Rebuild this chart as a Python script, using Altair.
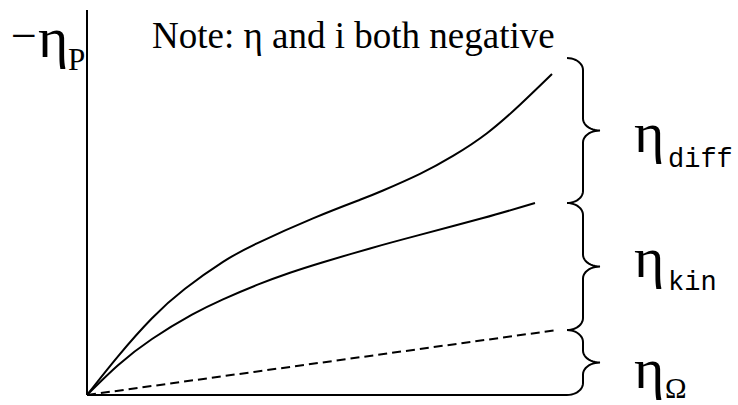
import altair as alt
import pandas as pd
import numpy as np

# Polarisation curves: current (arbitrary units) vs. -overpotential
total_i = [0, 0.62, 1.3, 1.96, 2.72, 3.4, 4.52, 5.46, 5.92, 6.66, 7.32, 8.0, 8.66, 9.3]
total_eta = [0, 1.21, 2.40, 3.32, 4.16, 4.74, 5.52, 6.10, 6.39, 6.91, 7.47, 8.18, 9.07, 10.03]
kin_i = [0, 0.62, 1.3, 2.1, 2.72, 3.4, 4.06, 4.72, 5.66, 6.6, 7.92, 8.96]
kin_eta = [0, 0.93, 1.75, 2.51, 2.99, 3.44, 3.82, 4.15, 4.58, 4.98, 5.53, 6.0]
ohm_i = [0, 9.4]
ohm_eta = [0, 2.03]

# Spans of the overpotential contributions marked with braces
brace_names = ["diff", "kin", "Ω"]
brace_lo = [6.0, 2.03, 0.0]
brace_hi = [10.53, 6.0, 2.03]

# Axis extents
y_axis_top = 12.03

# Scale set-up (50 px per current unit, 32 px per overpotential unit)
X_DOMAIN = [-1.74, 13.02]
Y_DOMAIN = [-0.3125, 12.344]
W, H = 738, 405

# Brace geometry (data units)
X_HOOK, X_SPINE, X_TIP = 9.6, 9.92, 10.26
R = 12 / 32


def brace_path(lo, hi):
    mid = (lo + hi) / 2
    t = np.linspace(0, np.pi / 2, 12)
    pts = []
    # top hook
    pts += list(zip(X_HOOK + (X_SPINE - X_HOOK) * np.sin(t), hi - R + R * np.cos(t)))
    # upper half of tip
    pts += list(zip(X_TIP - (X_TIP - X_SPINE) * np.cos(t), mid + R - R * np.sin(t)))
    # lower half of tip
    t2 = t[::-1]
    pts += list(zip(X_TIP - (X_TIP - X_SPINE) * np.cos(t2), mid - R + R * np.sin(t2)))
    # bottom hook
    pts += list(zip(X_HOOK + (X_SPINE - X_HOOK) * np.sin(t2), lo + R - R * np.cos(t2)))
    return pts


curves = pd.concat([
    pd.DataFrame({"i": total_i, "eta": total_eta, "series": "total", "k": range(len(total_i))}),
    pd.DataFrame({"i": kin_i, "eta": kin_eta, "series": "kin", "k": range(len(kin_i))}),
])
ohmic = pd.DataFrame({"i": ohm_i, "eta": ohm_eta, "k": range(len(ohm_i))})

brace_rows = []
for name, lo, hi in zip(brace_names, brace_lo, brace_hi):
    for k, (bx, by) in enumerate(brace_path(lo, hi)):
        brace_rows.append({"name": name, "i": bx, "eta": by, "k": k})
braces = pd.DataFrame(brace_rows)

xs = alt.Scale(domain=X_DOMAIN, nice=False, zero=False)
ys = alt.Scale(domain=Y_DOMAIN, nice=False, zero=False)
X = alt.X("i:Q", scale=xs, axis=None)
Y = alt.Y("eta:Q", scale=ys, axis=None)

solid = alt.Chart(curves).mark_line(
    color="black", strokeWidth=2, interpolate="natural"
).encode(x=X, y=Y, detail="series:N", order="k:Q")
dashed = alt.Chart(ohmic).mark_line(color="black", strokeWidth=2, strokeDash=[9, 5]).encode(
    x=X, y=Y, order="k:Q"
)
brace_lines = alt.Chart(braces).mark_line(color="black", strokeWidth=2).encode(
    x=X, y=Y, detail="name:N", order="k:Q"
)

axes_df = pd.DataFrame({
    "i": [0.0, 0.0], "i2": [0.0, X_HOOK],
    "eta": [0.0, 0.0], "eta2": [y_axis_top, 0.0],
})
axes = alt.Chart(axes_df).mark_rule(color="black", strokeWidth=2).encode(
    x=X, x2="i2:Q", y=Y, y2="eta2:Q"
)


def label(text, px, py, size, font="Liberation Serif"):
    return alt.Chart(pd.DataFrame({"t": [text]})).mark_text(
        align="left", baseline="alphabetic", font=font, fontSize=size, color="black"
    ).encode(x=alt.value(px), y=alt.value(py), text="t:N")


texts = [
    label("Note: η and i both negative", 152, 48, 37),
    label("−", 11, 51, 46),
    label("η", 38, 57, 58),
    label("P", 68, 70, 31),
    label("η", 634, 152, 58),
    label("diff", 668, 167, 27, "Liberation Mono"),
    label("η", 634, 277, 58),
    label("kin", 668, 290, 27, "Liberation Mono"),
    label("η", 634, 388, 58),
    label("Ω", 665, 398, 29),
]

chart = alt.layer(axes, solid, dashed, brace_lines, *texts).properties(
    width=W, height=H, padding=0, autosize=alt.AutoSizeParams(type="none"),
    background="white",
).configure_view(stroke=None)

chart.save("out.html", embed_options={"renderer": "svg", "actions": False})
